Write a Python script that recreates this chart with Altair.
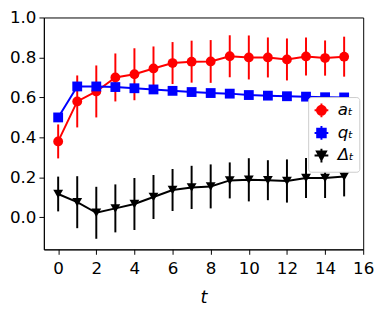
import altair as alt
import pandas as pd

t = list(range(16))
a_vals = [0.38, 0.58, 0.63, 0.70, 0.716, 0.745, 0.772, 0.779, 0.78, 0.806, 0.80, 0.80, 0.79, 0.805, 0.797, 0.804]
a_errs = [0.085, 0.13, 0.13, 0.12, 0.13, 0.11, 0.105, 0.105, 0.107, 0.105, 0.11, 0.10, 0.105, 0.095, 0.088, 0.10]
q_vals = [0.50, 0.655, 0.655, 0.652, 0.646, 0.64, 0.633, 0.627, 0.622, 0.619, 0.612, 0.609, 0.606, 0.604, 0.601, 0.60]
q_errs = [0.0] * 16
d_vals = [0.117, 0.076, 0.023, 0.045, 0.067, 0.102, 0.137, 0.15, 0.155, 0.185, 0.188, 0.186, 0.182, 0.197, 0.197, 0.205]
d_errs = [0.087, 0.13, 0.13, 0.12, 0.13, 0.11, 0.105, 0.108, 0.11, 0.09, 0.108, 0.1, 0.108, 0.1, 0.1, 0.1]

names = ["aₜ", "qₜ", "Δₜ"]
colors = ["#ff0000", "#0000ff", "#000000"]
marker_shapes = ["circle", "square", "triangle-down"]

circ = "M-0.66,0A0.66,0.66 0 1,0 0.66,0A0.66,0.66 0 1,0 -0.66,0Z"
sq = "M-0.62,-0.62H0.62V0.62H-0.62Z"
tri = "M-0.66,-0.58H0.66L0,0.64Z"
cross = "M-1,0H1M0,-1V1"
legend_paths = [circ + cross, sq + cross, tri + cross]

rows = []
for name, vals, errs in zip(names, [a_vals, q_vals, d_vals], [a_errs, q_errs, d_errs]):
    for ti, v, e in zip(t, vals, errs):
        rows.append({"t": ti, "v": v, "lo": v - e, "hi": v + e, "s": name})
df = pd.DataFrame(rows)

xs = alt.Scale(domain=[-0.75, 16], nice=False, zero=False)
ys = alt.Scale(domain=[-0.16, 1.0], nice=False, zero=False)
xax = alt.Axis(values=list(range(0, 17, 2)), format="d", title="t", labelPadding=7, titlePadding=12)
yax = alt.Axis(values=[0.0, 0.2, 0.4, 0.6, 0.8, 1.0], format=".1f", title=None, labelPadding=3)

base = alt.Chart(df)
layers = []
for name, col, shp, errs in zip(names, colors, marker_shapes, [a_errs, q_errs, d_errs]):
    sub = base.transform_filter(alt.datum.s == name)
    if max(errs) > 0:
        layers.append(sub.mark_rule(color=col, strokeWidth=2).encode(
            x=alt.X("t:Q", scale=xs, axis=xax),
            y=alt.Y("lo:Q", scale=ys, axis=yax),
            y2="hi:Q"))
    layers.append(sub.mark_line(color=col, strokeWidth=2).encode(
        x=alt.X("t:Q", scale=xs, axis=xax),
        y=alt.Y("v:Q", scale=ys, axis=yax)))
    layers.append(sub.mark_point(color=col, filled=True, opacity=1, size=100, shape=shp).encode(
        x=alt.X("t:Q", scale=xs, axis=xax),
        y=alt.Y("v:Q", scale=ys, axis=yax)))

legend = alt.Legend(title=None, orient="none", legendX=269, legendY=81,
                    symbolSize=196, symbolStrokeWidth=2, symbolOpacity=1,
                    labelFont="DejaVu Sans", labelFontSize=17, labelFontStyle="italic",
                    labelColor="black", labelOffset=8, rowPadding=0, padding=5,
                    fillColor="white", strokeColor="#cccccc", cornerRadius=3)
layers.append(base.mark_point(filled=True, opacity=0).encode(
    x=alt.X("t:Q", scale=xs, axis=xax),
    y=alt.Y("v:Q", scale=ys, axis=yax),
    fill=alt.Fill("s:N", scale=alt.Scale(domain=names, range=colors), legend=legend),
    stroke=alt.Stroke("s:N", scale=alt.Scale(domain=names, range=colors), legend=legend),
    shape=alt.Shape("s:N", scale=alt.Scale(domain=names, range=legend_paths), legend=legend)))

chart = alt.layer(*layers).properties(
    width=325, height=236,
    autosize=alt.AutoSizeParams(type="none"),
    padding={"left": 36.5, "top": 7, "right": 12, "bottom": 56},
).configure_view(stroke="black", strokeWidth=1).configure_axis(
    grid=False, labelFont="DejaVu Sans", labelFontSize=17, labelColor="black",
    tickColor="black", domainColor="black", tickSize=5, tickWidth=1, domainWidth=1,
    titleFont="DejaVu Sans", titleFontSize=18, titleFontStyle="italic",
    titleFontWeight="normal", titleColor="black",
).configure_axisX(labelFlush=False).configure_axisY(labelFlush=False)

chart.save("out.html", embed_options={"renderer": "svg", "actions": False})
